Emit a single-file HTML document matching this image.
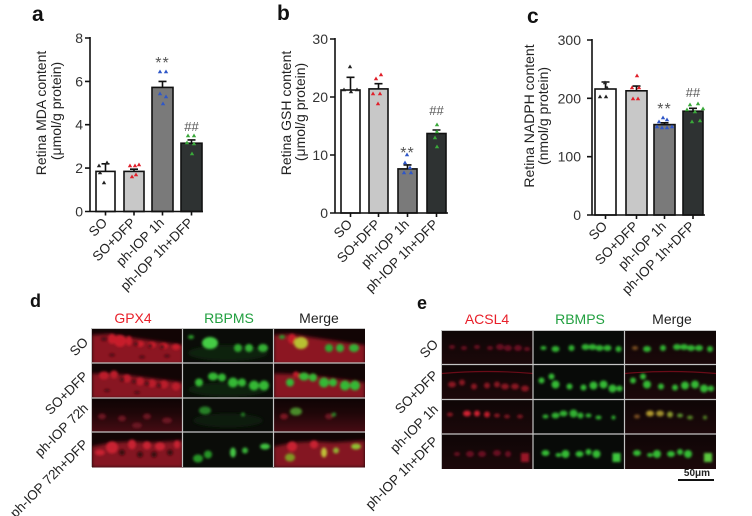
<!DOCTYPE html>
<html><head><meta charset="utf-8"><style>
html,body{margin:0;padding:0;background:#fff}
svg{display:block}
text{font-family:"Liberation Sans",Arial,sans-serif}
</style></head><body>
<svg width="752" height="516" viewBox="0 0 752 516" xmlns="http://www.w3.org/2000/svg">
<defs>
<filter id="b1" x="-30%" y="-30%" width="160%" height="160%"><feGaussianBlur stdDeviation="1.3"/></filter>
<filter id="b2" x="-10%" y="-30%" width="120%" height="160%"><feGaussianBlur stdDeviation="1.8"/></filter>
<linearGradient id="gR3" x1="0" y1="0" x2="0" y2="1"><stop offset="0" stop-color="#0e0404"/><stop offset="0.4" stop-color="#1e0608"/><stop offset="1" stop-color="#4a0c14"/></linearGradient>
<linearGradient id="gE" x1="0" y1="0" x2="0" y2="1"><stop offset="0" stop-color="#0e0606"/><stop offset="1" stop-color="#1c080a"/></linearGradient>
<clipPath id="cc"><rect x="0" y="0" width="91" height="35"/></clipPath>
</defs>

<!-- ===== Panel a ===== -->
<text x="32" y="21" font-size="21" font-weight="bold" fill="#111">a</text>
<text transform="translate(46,113) rotate(-90)" text-anchor="middle" font-size="14" fill="#222">Retina MDA content</text>
<text transform="translate(61,111) rotate(-90)" text-anchor="middle" font-size="14" fill="#222">(μmol/g protein)</text>
<g font-size="14" fill="#333" text-anchor="end">
<text x="83" y="216.5">0</text><text x="83" y="173.1">2</text><text x="83" y="129.7">4</text><text x="83" y="86.4">6</text><text x="83" y="43">8</text>
</g>
<g stroke="#111" stroke-width="1.6">
<rect x="96" y="171.4" width="19" height="40.1" fill="#fff"/>
<rect x="124" y="171.4" width="20" height="40.1" fill="#c8c8c8"/>
<rect x="152" y="87.4" width="21" height="124.1" fill="#7a7a7a"/>
<rect x="181" y="143.2" width="21" height="68.3" fill="#2e3232"/>
<path d="M105.5 171.4V163.8M101.5 163.8h8M134 171.4V169.2M130 169.2h8M162.5 87.4V81.4M158.5 81.4h8M191.5 143.2V139.9M187.5 139.9h8" fill="none"/>
<path d="M90 37V212M89.2 211.5H203M85 211.5h5M85 168.1h5M85 124.7h5M85 81.4h5M85 38h5M105.5 211.5v4M134 211.5v4M162.5 211.5v4M191.5 211.5v4" fill="none"/>
</g>
<g fill="#222"><path d="M99 163.5l2.2 3.8h-4.4zM107 160.5l2.2 3.8h-4.4zM100 170.5l2.2 3.8h-4.4zM104 180.5l2.2 3.8h-4.4z"/></g>
<g fill="#e0202a"><path d="M130 163.5l2.2 3.8h-4.4zM135 163.5l2.2 3.8h-4.4zM139 162.5l2.2 3.8h-4.4zM132 174.5l2.2 3.8h-4.4zM136 172.5l2.2 3.8h-4.4z"/></g>
<g fill="#2f57c8"><path d="M160 69.5l2.2 3.8h-4.4zM166 69.5l2.2 3.8h-4.4zM160 91.5l2.2 3.8h-4.4zM166 94.5l2.2 3.8h-4.4zM163 101.5l2.2 3.8h-4.4z"/></g>
<g fill="#3aa83a"><path d="M188 133.5l2.2 3.8h-4.4zM194 133.5l2.2 3.8h-4.4zM187 140.5l2.2 3.8h-4.4zM194 141.5l2.2 3.8h-4.4zM192 151.5l2.2 3.8h-4.4z"/></g>
<text x="162.5" y="68" font-size="16" fill="#555" text-anchor="middle" letter-spacing="1">**</text>
<text x="191.5" y="131" font-size="13" fill="#555" text-anchor="middle">##</text>
<g font-size="13.5" fill="#222" text-anchor="end">
<text transform="translate(108,223.5) rotate(-45)">SO</text>
<text transform="translate(136.5,223.5) rotate(-45)">SO+DFP</text>
<text transform="translate(165,223.5) rotate(-45)">ph-IOP 1h</text>
<text transform="translate(194,223.5) rotate(-45)">ph-IOP 1h+DFP</text>
</g>

<!-- ===== Panel b ===== -->
<text x="277" y="20" font-size="21" font-weight="bold" fill="#111">b</text>
<text transform="translate(291,113) rotate(-90)" text-anchor="middle" font-size="14" fill="#222">Retina GSH content</text>
<text transform="translate(305,112) rotate(-90)" text-anchor="middle" font-size="14" fill="#222">(μmol/g protein)</text>
<g font-size="14" fill="#333" text-anchor="end">
<text x="328" y="218">0</text><text x="328" y="160">10</text><text x="328" y="102">20</text><text x="328" y="44">30</text>
</g>
<g stroke="#111" stroke-width="1.6">
<rect x="341" y="90" width="19" height="123" fill="#fff"/>
<rect x="369" y="88.9" width="19" height="124.1" fill="#c8c8c8"/>
<rect x="398" y="168.9" width="19" height="44.1" fill="#7a7a7a"/>
<rect x="427" y="133.5" width="19" height="79.5" fill="#2e3232"/>
<path d="M350.5 90V77.3M346.5 77.3h8M378.5 88.9V83.7M374.5 83.7h8M407.5 168.9V164.9M403.5 164.9h8M436.5 133.5V130M432.5 130h8" fill="none"/>
<path d="M335 38V213.8M334.2 213H448M330 213h5M330 155h5M330 97h5M330 39h5M350.5 213v4M378.5 213v4M407.5 213v4M436.5 213v4" fill="none"/>
</g>
<g fill="#222"><path d="M350 64.5l2.2 3.8h-4.4zM344 87.5l2.2 3.8h-4.4zM351 89.5l2.2 3.8h-4.4zM357 87.5l2.2 3.8h-4.4z"/></g>
<g fill="#e0202a"><path d="M376 76.5l2.2 3.8h-4.4zM381 72.5l2.2 3.8h-4.4zM373 91.5l2.2 3.8h-4.4zM380 91.5l2.2 3.8h-4.4zM378 101.5l2.2 3.8h-4.4z"/></g>
<g fill="#2f57c8"><path d="M407 152.5l2.2 3.8h-4.4zM405 160.5l2.2 3.8h-4.4zM410 165.5l2.2 3.8h-4.4zM404 170.5l2.2 3.8h-4.4zM411 170.5l2.2 3.8h-4.4z"/></g>
<g fill="#3aa83a"><path d="M437 122.5l2.2 3.8h-4.4zM437 129.5l2.2 3.8h-4.4zM435 135.5l2.2 3.8h-4.4zM437 144.5l2.2 3.8h-4.4z"/></g>
<text x="407.5" y="158" font-size="16" fill="#555" text-anchor="middle" letter-spacing="1">**</text>
<text x="436.5" y="115" font-size="13" fill="#555" text-anchor="middle">##</text>
<g font-size="13.5" fill="#222" text-anchor="end">
<text transform="translate(353,225) rotate(-45)">SO</text>
<text transform="translate(381,225) rotate(-45)">SO+DFP</text>
<text transform="translate(410,225) rotate(-45)">ph-IOP 1h</text>
<text transform="translate(439,225) rotate(-45)">ph-IOP 1h+DFP</text>
</g>

<!-- ===== Panel c ===== -->
<text x="527" y="23" font-size="21" font-weight="bold" fill="#111">c</text>
<text transform="translate(534,116) rotate(-90)" text-anchor="middle" font-size="14" fill="#222">Retina NADPH content</text>
<text transform="translate(548,116) rotate(-90)" text-anchor="middle" font-size="14" fill="#222">(nmol/g protein)</text>
<g font-size="14" fill="#333" text-anchor="end">
<text x="581" y="220">0</text><text x="581" y="161.7">100</text><text x="581" y="103.3">200</text><text x="581" y="45">300</text>
</g>
<g stroke="#111" stroke-width="1.6">
<rect x="595" y="89" width="21" height="126" fill="#fff"/>
<rect x="626" y="90.8" width="21" height="124.2" fill="#c8c8c8"/>
<rect x="654" y="124.6" width="21" height="90.4" fill="#7a7a7a"/>
<rect x="683" y="111.2" width="20" height="103.8" fill="#2e3232"/>
<path d="M605.5 89V82M601.5 82h8M636.5 90.8V86.1M632.5 86.1h8M664.5 124.6V122.8M660.5 122.8h8M693 111.2V108.3M689 108.3h8" fill="none"/>
<path d="M592 39V215.8M591.2 215H705M587 215h5M587 156.7h5M587 98.3h5M587 40h5M605.5 215v4M636.5 215v4M664.5 215v4M693 215v4" fill="none"/>
</g>
<g fill="#222"><path d="M605 80.5l2.2 3.8h-4.4zM607 85.5l2.2 3.8h-4.4zM600 94.5l2.2 3.8h-4.4zM606 94.5l2.2 3.8h-4.4z"/></g>
<g fill="#e0202a"><path d="M637 73.5l2.2 3.8h-4.4zM632 85.5l2.2 3.8h-4.4zM639 85.5l2.2 3.8h-4.4zM633 96.5l2.2 3.8h-4.4zM638 96.5l2.2 3.8h-4.4z"/></g>
<g fill="#2f57c8"><path d="M663 115.5l2.2 3.8h-4.4zM659 119.5l2.2 3.8h-4.4zM667 117.5l2.2 3.8h-4.4zM657 124.5l2.2 3.8h-4.4zM662 125.5l2.2 3.8h-4.4zM667 125.5l2.2 3.8h-4.4zM672 124.5l2.2 3.8h-4.4z"/></g>
<g fill="#3aa83a"><path d="M690 102.5l2.2 3.8h-4.4zM698 101.5l2.2 3.8h-4.4zM703 106.5l2.2 3.8h-4.4zM687 107.5l2.2 3.8h-4.4zM695 109.5l2.2 3.8h-4.4zM692 119.5l2.2 3.8h-4.4zM700 118.5l2.2 3.8h-4.4z"/></g>
<text x="664.5" y="114" font-size="16" fill="#555" text-anchor="middle" letter-spacing="1">**</text>
<text x="693" y="97" font-size="13" fill="#555" text-anchor="middle">##</text>
<g font-size="13.5" fill="#222" text-anchor="end">
<text transform="translate(608,227) rotate(-45)">SO</text>
<text transform="translate(639,227) rotate(-45)">SO+DFP</text>
<text transform="translate(667,227) rotate(-45)">ph-IOP 1h</text>
<text transform="translate(695.5,227) rotate(-45)">ph-IOP 1h+DFP</text>
</g>

<!-- ===== Panel d ===== -->
<text x="30" y="307" font-size="18" font-weight="bold" fill="#111">d</text>
<g font-size="14" text-anchor="middle">
<text x="133" y="323" fill="#e8202a">GPX4</text>
<text x="229" y="323" fill="#22a040">RBPMS</text>
<text x="319" y="323" fill="#222">Merge</text>
</g>
<g font-size="13.5" fill="#222" text-anchor="end">
<text transform="translate(89,343) rotate(-45)">SO</text>
<text transform="translate(89,377) rotate(-45)">SO+DFP</text>
<text transform="translate(89,409) rotate(-45)">ph-IOP 72h</text>
<text transform="translate(89,445) rotate(-45)">ph-IOP 72h+DFP</text>
</g>
<rect x="91" y="328" width="274" height="139" fill="#c4c4c4"/>
<!-- row1 -->
<g transform="translate(92,329)" clip-path="url(#cc)">
<rect width="91" height="35" fill="#120505"/>
<path d="M0 6 L18 5 L35 8 L55 11 L75 14 L91 16 V35 H0Z" fill="#8c1624" filter="url(#b2)"/>
<g filter="url(#b1)" fill="#c81e2a"><ellipse cx="28" cy="12" rx="6" ry="6"/><ellipse cx="20" cy="10" rx="4" ry="5"/><ellipse cx="37" cy="12" rx="3" ry="5"/><ellipse cx="48" cy="15" rx="4" ry="3"/><ellipse cx="60" cy="16" rx="4" ry="3"/><ellipse cx="72" cy="17" rx="4" ry="3"/><ellipse cx="84" cy="18" rx="4" ry="3"/></g>
<g filter="url(#b1)" fill="#4a0a12"><ellipse cx="12" cy="10" rx="3" ry="2"/><ellipse cx="44" cy="15" rx="2" ry="2"/><ellipse cx="58" cy="17" rx="2" ry="2"/><ellipse cx="70" cy="18" rx="2" ry="2"/><ellipse cx="20" cy="26" rx="3" ry="1.5"/><ellipse cx="50" cy="28" rx="3" ry="1.5"/><ellipse cx="75" cy="27" rx="3" ry="1.5"/></g>
</g>
<g transform="translate(183,329)" clip-path="url(#cc)">
<rect width="91" height="35" fill="#0a0c08"/>
<ellipse cx="45" cy="24" rx="40" ry="8" fill="#0e220e" filter="url(#b2)"/>
<g filter="url(#b1)"><ellipse cx="8" cy="8" rx="3" ry="2" fill="#2a9a2a"/><ellipse cx="27" cy="14" rx="8" ry="6" fill="#44cc44"/><ellipse cx="55" cy="19" rx="4" ry="4" fill="#2fa82f"/><ellipse cx="66" cy="19" rx="4" ry="4" fill="#34b034"/><ellipse cx="80" cy="19" rx="5" ry="4" fill="#34b034"/></g>
</g>
<g transform="translate(274,329)" clip-path="url(#cc)">
<rect width="91" height="35" fill="#120505"/>
<path d="M0 6 L18 5 L35 8 L55 11 L75 14 L91 16 V35 H0Z" fill="#8c1624" filter="url(#b2)"/>
<g filter="url(#b1)"><ellipse cx="18" cy="10" rx="4" ry="5" fill="#c81e2a"/><ellipse cx="8" cy="8" rx="3" ry="2" fill="#2a9a2a"/><ellipse cx="27" cy="14" rx="7" ry="6" fill="#b8c030"/><ellipse cx="55" cy="19" rx="4" ry="4" fill="#2fa82f"/><ellipse cx="66" cy="19" rx="4" ry="4" fill="#34b034"/><ellipse cx="80" cy="19" rx="5" ry="4" fill="#34b034"/></g>
</g>
<!-- row2 -->
<g transform="translate(92,363.5)" clip-path="url(#cc)">
<rect width="91" height="35" fill="#120505"/>
<path d="M0 10 L30 11 L60 15 L91 19 V35 H0Z" fill="#881622" filter="url(#b2)"/>
<g filter="url(#b1)" fill="#bc1c2a"><ellipse cx="12" cy="12" rx="5" ry="4"/><ellipse cx="22" cy="11" rx="4" ry="4"/><ellipse cx="35" cy="15" rx="4" ry="4"/><ellipse cx="48" cy="18" rx="4" ry="4"/><ellipse cx="60" cy="20" rx="4" ry="4"/><ellipse cx="72" cy="21" rx="4" ry="4"/><ellipse cx="84" cy="23" rx="4" ry="4"/></g>
<g filter="url(#b1)" fill="#4a0a12"><ellipse cx="30" cy="16" rx="2" ry="2"/><ellipse cx="42" cy="18" rx="2" ry="2"/><ellipse cx="55" cy="20" rx="2" ry="2"/><ellipse cx="67" cy="22" rx="2" ry="2"/><ellipse cx="15" cy="27" rx="3" ry="1.5"/><ellipse cx="45" cy="29" rx="3" ry="1.5"/></g>
</g>
<g transform="translate(183,363.5)" clip-path="url(#cc)">
<rect width="91" height="35" fill="#0a0c08"/>
<ellipse cx="45" cy="26" rx="40" ry="7" fill="#0e220e" filter="url(#b2)"/>
<g filter="url(#b1)" fill="#34b834"><ellipse cx="16" cy="19" rx="4" ry="4"/><ellipse cx="30" cy="13" rx="5" ry="4"/><ellipse cx="39" cy="14" rx="4" ry="4"/><ellipse cx="50" cy="19" rx="5" ry="5"/><ellipse cx="59" cy="19" rx="4" ry="4"/><ellipse cx="71" cy="22" rx="5" ry="5"/><ellipse cx="81" cy="22" rx="5" ry="5"/></g>
</g>
<g transform="translate(274,363.5)" clip-path="url(#cc)">
<rect width="91" height="35" fill="#120505"/>
<path d="M0 10 L30 11 L60 15 L91 19 V35 H0Z" fill="#881622" filter="url(#b2)"/>
<g filter="url(#b1)" fill="#34b834"><ellipse cx="16" cy="19" rx="4" ry="4"/><ellipse cx="30" cy="13" rx="5" ry="4"/><ellipse cx="39" cy="14" rx="4" ry="4"/><ellipse cx="50" cy="19" rx="5" ry="5"/><ellipse cx="59" cy="19" rx="4" ry="4"/><ellipse cx="71" cy="22" rx="5" ry="5"/><ellipse cx="81" cy="22" rx="5" ry="5"/><ellipse cx="22" cy="11" rx="3" ry="3" fill="#c01c2a"/></g>
</g>
<!-- row3 -->
<g transform="translate(92,398.5)" clip-path="url(#cc)">
<rect width="91" height="35" fill="url(#gR3)"/>
<g filter="url(#b1)" fill="#6a1220"><ellipse cx="10" cy="18" rx="4" ry="3"/><ellipse cx="30" cy="20" rx="4" ry="3"/><ellipse cx="55" cy="18" rx="4" ry="3"/><ellipse cx="75" cy="22" rx="5" ry="3"/><ellipse cx="45" cy="27" rx="5" ry="3"/></g>
</g>
<g transform="translate(183,398.5)" clip-path="url(#cc)">
<rect width="91" height="35" fill="#0a0c08"/>
<ellipse cx="45" cy="22" rx="35" ry="7" fill="#0c1a0c" filter="url(#b2)"/>
<g filter="url(#b1)"><ellipse cx="22" cy="12" rx="6" ry="4" fill="#268026"/><ellipse cx="60" cy="16" rx="2" ry="2" fill="#268026"/></g>
</g>
<g transform="translate(274,398.5)" clip-path="url(#cc)">
<rect width="91" height="35" fill="url(#gR3)"/>
<g filter="url(#b1)"><ellipse cx="22" cy="13" rx="6" ry="4" fill="#4a8a2a"/><ellipse cx="10" cy="18" rx="4" ry="3" fill="#7a1420"/><ellipse cx="55" cy="18" rx="4" ry="3" fill="#6a1220"/><ellipse cx="60" cy="16" rx="2" ry="2" fill="#2a8a2a"/></g>
</g>
<!-- row4 -->
<g transform="translate(92,432.5)" clip-path="url(#cc)">
<rect width="91" height="35" fill="#120505"/>
<path d="M0 14 L20 10 L40 9 L60 10 L91 8 V35 H0Z" fill="#841420" filter="url(#b2)"/>
<g filter="url(#b1)" fill="#c82230"><ellipse cx="20" cy="15" rx="6" ry="6"/><ellipse cx="40" cy="12" rx="4" ry="5"/><ellipse cx="55" cy="13" rx="4" ry="4"/><ellipse cx="68" cy="14" rx="5" ry="4"/><ellipse cx="85" cy="12" rx="3" ry="4"/><ellipse cx="8" cy="20" rx="5" ry="3"/></g>
<g filter="url(#b1)" fill="#3a080e"><ellipse cx="30" cy="20" rx="3" ry="3"/><ellipse cx="48" cy="22" rx="3" ry="3"/><ellipse cx="62" cy="22" rx="3" ry="3"/><ellipse cx="78" cy="20" rx="3" ry="3"/></g>
</g>
<g transform="translate(183,432.5)" clip-path="url(#cc)">
<rect width="91" height="35" fill="#0a0c08"/>
<g filter="url(#b1)"><ellipse cx="15" cy="26" rx="5" ry="4" fill="#259425"/><ellipse cx="25" cy="22" rx="4" ry="4" fill="#259425"/><ellipse cx="50" cy="20" rx="3" ry="5" fill="#44c444"/><ellipse cx="62" cy="18" rx="3" ry="3" fill="#38b038"/><ellipse cx="82" cy="14" rx="5" ry="3" fill="#40c040"/></g>
</g>
<g transform="translate(274,432.5)" clip-path="url(#cc)">
<rect width="91" height="35" fill="#120505"/>
<path d="M0 14 L20 10 L40 9 L60 10 L91 8 V35 H0Z" fill="#841420" filter="url(#b2)"/>
<g filter="url(#b1)"><ellipse cx="18" cy="14" rx="5" ry="5" fill="#c82230"/><ellipse cx="16" cy="25" rx="5" ry="4" fill="#809a20"/><ellipse cx="50" cy="20" rx="3" ry="5" fill="#c0c038"/><ellipse cx="62" cy="18" rx="3" ry="3" fill="#90b030"/><ellipse cx="82" cy="14" rx="5" ry="3" fill="#90c030"/><ellipse cx="40" cy="12" rx="4" ry="4" fill="#c82230"/></g>
</g>

<!-- ===== Panel e ===== -->
<text x="417" y="309" font-size="18" font-weight="bold" fill="#111">e</text>
<g font-size="14" text-anchor="middle">
<text x="487" y="324" fill="#e8202a">ACSL4</text>
<text x="580" y="324" fill="#22a040">RBMPS</text>
<text x="672" y="324" fill="#222">Merge</text>
</g>
<g font-size="13.5" fill="#222" text-anchor="end">
<text transform="translate(439,345) rotate(-45)">SO</text>
<text transform="translate(439,376) rotate(-45)">SO+DFP</text>
<text transform="translate(439,410) rotate(-45)">ph-IOP 1h</text>
<text transform="translate(439,442) rotate(-45)">ph-IOP 1h+DFP</text>
</g>
<rect x="441" y="330" width="275" height="139" fill="#c4c4c4"/>
<!-- e row1 -->
<g transform="translate(442,331)" clip-path="url(#cc)">
<rect width="91" height="35" fill="url(#gE)"/>
<g filter="url(#b1)" fill="#6a1020"><ellipse cx="10" cy="16" rx="3" ry="2"/><ellipse cx="22" cy="17" rx="3" ry="2"/><ellipse cx="35" cy="16" rx="3" ry="2"/><ellipse cx="48" cy="17" rx="3" ry="2"/><ellipse cx="58" cy="16" rx="4" ry="3"/><ellipse cx="66" cy="17" rx="4" ry="3"/><ellipse cx="76" cy="17" rx="4" ry="3"/><ellipse cx="85" cy="18" rx="3" ry="2"/></g>
</g>
<g transform="translate(533.5,331)" clip-path="url(#cc)">
<rect width="91" height="35" fill="#080a08"/>
<g filter="url(#b1)" fill="#32b232"><ellipse cx="10" cy="17" rx="3" ry="2"/><ellipse cx="22" cy="18" rx="4" ry="3"/><ellipse cx="38" cy="17" rx="3" ry="3"/><ellipse cx="52" cy="16" rx="4" ry="3"/><ellipse cx="59" cy="16" rx="4" ry="3"/><ellipse cx="66" cy="17" rx="4" ry="3"/><ellipse cx="74" cy="17" rx="4" ry="3"/><ellipse cx="85" cy="18" rx="3" ry="3"/></g>
</g>
<g transform="translate(625,331)" clip-path="url(#cc)">
<rect width="91" height="35" fill="url(#gE)"/>
<g filter="url(#b1)" fill="#32b232"><ellipse cx="10" cy="17" rx="3" ry="2" fill="#7a5020"/><ellipse cx="22" cy="18" rx="4" ry="3"/><ellipse cx="38" cy="17" rx="3" ry="3"/><ellipse cx="52" cy="16" rx="4" ry="3"/><ellipse cx="59" cy="16" rx="4" ry="3"/><ellipse cx="66" cy="17" rx="4" ry="3"/><ellipse cx="74" cy="17" rx="4" ry="3"/><ellipse cx="85" cy="18" rx="3" ry="3"/></g>
</g>
<!-- e row2 -->
<g transform="translate(442,364.5)" clip-path="url(#cc)">
<rect width="91" height="35" fill="url(#gE)"/>
<path d="M0 9 Q45 5 91 9" stroke="#6a0c18" stroke-width="1.2" fill="none"/>
<g filter="url(#b1)" fill="#8a1424"><ellipse cx="10" cy="20" rx="4" ry="3"/><ellipse cx="20" cy="18" rx="3" ry="3"/><ellipse cx="32" cy="22" rx="3" ry="3"/><ellipse cx="45" cy="21" rx="3" ry="3"/><ellipse cx="55" cy="20" rx="3" ry="3"/><ellipse cx="63" cy="22" rx="4" ry="3"/><ellipse cx="73" cy="22" rx="4" ry="3"/><ellipse cx="83" cy="24" rx="4" ry="3"/></g>
</g>
<g transform="translate(533.5,364.5)" clip-path="url(#cc)">
<rect width="91" height="35" fill="#080a08"/>
<g filter="url(#b1)" fill="#36ba36"><ellipse cx="8" cy="16" rx="3" ry="3"/><ellipse cx="18" cy="12" rx="3" ry="3"/><ellipse cx="22" cy="20" rx="4" ry="4"/><ellipse cx="36" cy="22" rx="3" ry="3"/><ellipse cx="50" cy="23" rx="3" ry="3"/><ellipse cx="60" cy="21" rx="4" ry="4"/><ellipse cx="70" cy="20" rx="4" ry="4"/><ellipse cx="79" cy="24" rx="4" ry="4"/><ellipse cx="86" cy="24" rx="3" ry="3"/></g>
</g>
<g transform="translate(625,364.5)" clip-path="url(#cc)">
<rect width="91" height="35" fill="url(#gE)"/>
<path d="M0 9 Q45 5 91 9" stroke="#6a0c18" stroke-width="1.2" fill="none"/>
<g filter="url(#b1)" fill="#36ba36"><ellipse cx="8" cy="16" rx="3" ry="3"/><ellipse cx="18" cy="12" rx="3" ry="3"/><ellipse cx="22" cy="20" rx="4" ry="4"/><ellipse cx="36" cy="22" rx="3" ry="3"/><ellipse cx="50" cy="23" rx="3" ry="3"/><ellipse cx="60" cy="21" rx="4" ry="4"/><ellipse cx="70" cy="20" rx="4" ry="4"/><ellipse cx="79" cy="24" rx="4" ry="4"/><ellipse cx="86" cy="24" rx="3" ry="3"/></g>
</g>
<!-- e row3 -->
<g transform="translate(442,399.5)" clip-path="url(#cc)">
<rect width="91" height="35" fill="url(#gE)"/>
<g filter="url(#b1)"><ellipse cx="8" cy="15" rx="3" ry="2" fill="#8a1424"/><ellipse cx="25" cy="14" rx="4" ry="3" fill="#d02030"/><ellipse cx="35" cy="14" rx="3" ry="3" fill="#d02030"/><ellipse cx="45" cy="15" rx="3" ry="3" fill="#c01e2c"/><ellipse cx="55" cy="16" rx="3" ry="2" fill="#8a1424"/><ellipse cx="65" cy="17" rx="3" ry="2" fill="#7a1222"/><ellipse cx="78" cy="17" rx="3" ry="2" fill="#7a1222"/></g>
</g>
<g transform="translate(533.5,399.5)" clip-path="url(#cc)">
<rect width="91" height="35" fill="#080a08"/>
<g filter="url(#b1)" fill="#30b030"><ellipse cx="12" cy="17" rx="3" ry="2"/><ellipse cx="22" cy="16" rx="4" ry="3"/><ellipse cx="30" cy="14" rx="4" ry="3"/><ellipse cx="40" cy="14" rx="4" ry="4"/><ellipse cx="47" cy="16" rx="3" ry="3"/><ellipse cx="55" cy="16" rx="3" ry="2"/><ellipse cx="65" cy="18" rx="3" ry="2"/><ellipse cx="80" cy="18" rx="2" ry="2"/></g>
</g>
<g transform="translate(625,399.5)" clip-path="url(#cc)">
<rect width="91" height="35" fill="url(#gE)"/>
<g filter="url(#b1)"><ellipse cx="12" cy="17" rx="3" ry="2" fill="#7a5020"/><ellipse cx="25" cy="14" rx="4" ry="3" fill="#b0982e"/><ellipse cx="35" cy="14" rx="4" ry="3" fill="#a0902e"/><ellipse cx="45" cy="15" rx="3" ry="3" fill="#88982e"/><ellipse cx="55" cy="16" rx="3" ry="2" fill="#5a922e"/><ellipse cx="65" cy="18" rx="3" ry="2" fill="#548428"/><ellipse cx="80" cy="18" rx="2" ry="2" fill="#548428"/></g>
</g>
<!-- e row4 -->
<g transform="translate(442,434)" clip-path="url(#cc)">
<rect width="91" height="35" fill="url(#gE)"/>
<g filter="url(#b1)" fill="#6a1020"><ellipse cx="15" cy="20" rx="3" ry="2"/><ellipse cx="28" cy="20" rx="4" ry="3"/><ellipse cx="40" cy="20" rx="4" ry="3"/><ellipse cx="55" cy="19" rx="4" ry="3"/><ellipse cx="66" cy="20" rx="3" ry="3"/><rect x="79" y="19" width="8" height="9" fill="#9a1828"/></g>
</g>
<g transform="translate(533.5,434)" clip-path="url(#cc)">
<rect width="91" height="35" fill="#080a08"/>
<g filter="url(#b1)" fill="#36bc36"><ellipse cx="12" cy="19" rx="4" ry="3"/><ellipse cx="25" cy="21" rx="3" ry="2"/><ellipse cx="32" cy="20" rx="4" ry="4"/><ellipse cx="46" cy="20" rx="4" ry="3"/><ellipse cx="55" cy="18" rx="3" ry="3"/><ellipse cx="63" cy="20" rx="4" ry="4"/><rect x="79" y="19" width="8" height="9" fill="#3cc83c"/></g>
</g>
<g transform="translate(625,434)" clip-path="url(#cc)">
<rect width="91" height="35" fill="url(#gE)"/>
<g filter="url(#b1)" fill="#36bc36"><ellipse cx="12" cy="19" rx="4" ry="3"/><ellipse cx="25" cy="21" rx="3" ry="2"/><ellipse cx="32" cy="20" rx="4" ry="4"/><ellipse cx="46" cy="20" rx="4" ry="3"/><ellipse cx="55" cy="18" rx="3" ry="3"/><ellipse cx="63" cy="20" rx="4" ry="4"/><rect x="79" y="19" width="8" height="9" fill="#5cc83c"/></g>
</g>
<!-- dividers -->
<g stroke="#c4c4c4" stroke-width="1.2" fill="none">
<path d="M182.5 328V467M273.5 328V467M91 363H365M91 398H365M91 432H365"/>
<path d="M533 330V469M624.5 330V469M441 364.5H716M441 399.5H716M441 434H716"/>
</g>
<text x="697" y="476" font-size="10" font-weight="bold" fill="#222" text-anchor="middle">50μm</text>
<line x1="678" y1="480" x2="714" y2="480" stroke="#111" stroke-width="2"/>
</svg>
</body></html>
